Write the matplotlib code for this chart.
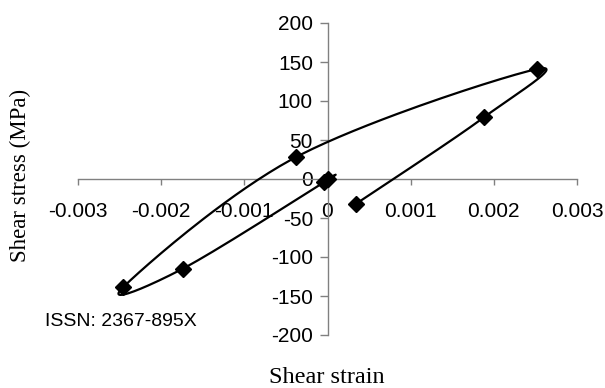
import numpy as np
import matplotlib
matplotlib.use('Agg')
import matplotlib.pyplot as plt

plt.rcParams['axes.unicode_minus'] = False

# data (in plotting order)
strain = [0.0, -0.00004, -0.00174, -0.00246, -0.00038, 0.00252, 0.00188, 0.00034]
stress = [0, -4, -115, -139, 28, 141, 79, -32]

xticks = [-0.003, -0.002, -0.001, 0, 0.001, 0.002, 0.003]
xticklabels = ['-0.003', '-0.002', '-0.001', '0', '0.001', '0.002', '0.003']
yticks = [-200, -150, -100, -50, 0, 50, 100, 150, 200]


def smooth(xs, ys, sx, sy, n=40):
    # spreadsheet-style smoothed line: cubic bezier, control points from neighbours
    P = np.column_stack([np.asarray(xs) * sx, np.asarray(ys) * sy])
    Pe = np.vstack([P[0], P, P[-1]])
    t = np.linspace(0, 1, n)[:, None]
    out = []
    for i in range(len(P) - 1):
        p0, p1, p2, p3 = Pe[i], Pe[i + 1], Pe[i + 2], Pe[i + 3]
        c1 = p1 + (p2 - p0) / 6
        c2 = p2 - (p3 - p1) / 6
        seg = (1 - t) ** 3 * p1 + 3 * (1 - t) ** 2 * t * c1 + 3 * (1 - t) * t ** 2 * c2 + t ** 3 * p2
        out.append(seg if i == 0 else seg[1:])
    Q = np.vstack(out)
    return Q[:, 0] / sx, Q[:, 1] / sy


fig = plt.figure(figsize=(6.05, 3.88), dpi=100)
ax = fig.add_axes([78 / 605, 1 - 335 / 388, 499 / 605, 312 / 388])

# scale factors so the smoothing is done in screen-like units
sx, sy = 83.2 / 0.001, 0.78
cx, cy = smooth(strain, stress, sx, sy)
ax.plot(cx, cy, color='black', lw=1.6, zorder=3)
ax.plot(strain, stress, linestyle='none', marker='D', ms=8, color='black', zorder=4)

ax.set_xlim(-0.003, 0.003)
ax.set_ylim(-200, 200)

for side in ['top', 'right']:
    ax.spines[side].set_visible(False)
ax.spines['left'].set_position(('data', 0))
ax.spines['bottom'].set_position(('data', 0))
for side in ['left', 'bottom']:
    ax.spines[side].set_color('#808080')
    ax.spines[side].set_linewidth(1.0)

ax.set_xticks(xticks)
ax.set_xticklabels(xticklabels)
ax.set_yticks(yticks)
ax.tick_params(axis='x', direction='out', length=4.5, width=1, color='#808080', pad=12,
               labelsize=15)
ax.tick_params(axis='y', direction='out', length=5.5, width=1, color='#808080', pad=5,
               labelsize=15)
for lab in ax.get_xticklabels() + ax.get_yticklabels():
    lab.set_fontfamily('Liberation Sans')

fig.text(327 / 605, 1 - 383 / 388, 'Shear strain', ha='center', va='baseline',
         fontsize=17.5, family='Liberation Serif')
fig.text(20 / 605, 1 - 175 / 388, 'Shear stress (MPa)', ha='center', va='center',
         rotation=90, fontsize=16.5, family='Liberation Serif')
fig.text(45 / 605, 1 - 321 / 388, 'ISSN: 2367-895X', ha='left', va='center',
         fontsize=14, family='Liberation Sans')

fig.savefig('out.png', dpi=100)
